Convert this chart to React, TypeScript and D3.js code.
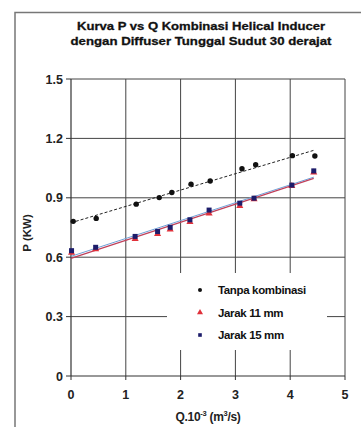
import React from "react";
import * as d3 from "d3";

const titleLines = ["Kurva P vs Q Kombinasi Helical Inducer", "dengan Diffuser Tunggal Sudut 30 derajat"];
const xTicks = [0, 1, 2, 3, 4, 5];
const yTicks = [0, 0.3, 0.6, 0.9, 1.2, 1.5];
const yTickLabels = ["0", "0.3", "0.6", "0.9", "1.2", "1.5"];

const qTanpa = [0.04, 0.46, 1.19, 1.61, 1.84, 2.19, 2.54, 3.12, 3.37, 4.04, 4.45];
const pTanpa = [0.781, 0.796, 0.868, 0.901, 0.927, 0.969, 0.985, 1.047, 1.067, 1.113, 1.111];

const q11 = [0.01, 0.45, 1.17, 1.58, 1.81, 2.17, 2.52, 3.08, 3.34, 4.03, 4.43];
const p11 = [0.625, 0.643, 0.695, 0.72, 0.743, 0.78, 0.823, 0.862, 0.895, 0.962, 1.03];

const q15 = [0.01, 0.45, 1.17, 1.58, 1.81, 2.17, 2.52, 3.08, 3.34, 4.03, 4.43];
const p15 = [0.633, 0.65, 0.705, 0.73, 0.751, 0.789, 0.838, 0.873, 0.898, 0.964, 1.036];

const legendLabels = ["Tanpa kombinasi", "Jarak 11  mm", "Jarak 15 mm"];

function fit(xs: number[], ys: number[]) {
  const n = xs.length;
  const mx = d3.mean(xs)!;
  const my = d3.mean(ys)!;
  let sxy = 0, sxx = 0;
  for (let i = 0; i < n; i++) {
    sxy += (xs[i] - mx) * (ys[i] - my);
    sxx += (xs[i] - mx) * (xs[i] - mx);
  }
  const b = sxy / sxx;
  return { a: my - b * mx, b };
}

export default function App() {
  const W = 361, H = 427;
  const left = 71, right = 345, top = 79, bottom = 376;
  const x = d3.scaleLinear().domain([0, 5]).range([left, right]);
  const y = d3.scaleLinear().domain([0, 1.5]).range([bottom, top]);
  const font = "'Liberation Sans', Arial, sans-serif";

  const fT = fit(qTanpa, pTanpa);
  const f11 = fit(q11, p11);
  const f15 = fit(q15, p15);
  const xEndT = d3.max(qTanpa)!;
  const xEnd11 = d3.max(q11)!;
  const xEnd15 = d3.max(q15)!;

  const lgX0 = 167, lgX1 = 327, lgY0 = 273, lgY1 = 350;
  const tri = d3.symbol().type(d3.symbolTriangle).size(22);
  const titleWidths = [248, 261];

  return (
    <svg width={W} height={H} style={{ position: "absolute", left: 0, top: 0, background: "#fff" }}>
      <rect x={0} y={0} width={W} height={H} fill="#fff" />
      <path d={`M15,427 L15,12.5 L361,12.5`} fill="none" stroke="#777" strokeWidth={1.5} />

      {titleLines.map((t, i) => (
        <text key={i} x={201} y={30 + i * 15} textAnchor="middle" fontFamily={font} fontWeight="bold"
          fontSize={11.5} textLength={titleWidths[i]} lengthAdjust="spacingAndGlyphs" fill="#111"
          stroke="#111" strokeWidth={0.3}>{t}</text>
      ))}

      {yTicks.slice(1).map((v) => (
        <line key={"gy" + v} x1={left} x2={right} y1={y(v)} y2={y(v)} stroke="#444" strokeWidth={1} />
      ))}
      {xTicks.slice(1).map((v) => (
        <line key={"gx" + v} x1={x(v)} x2={x(v)} y1={top} y2={bottom} stroke="#444" strokeWidth={1} />
      ))}
      <rect x={lgX0} y={lgY0} width={lgX1 - lgX0} height={lgY1 - lgY0} fill="#fff" />

      <line x1={left} x2={left} y1={top} y2={bottom} stroke="#333" strokeWidth={1.2} />
      <line x1={left} x2={right} y1={bottom} y2={bottom} stroke="#333" strokeWidth={1.2} />
      {yTicks.map((v, i) => (
        <g key={"yt" + v}>
          <line x1={left - 5} x2={left} y1={y(v)} y2={y(v)} stroke="#333" />
          <text x={63} y={y(v) + 4.5} textAnchor="end" fontFamily={font} fontWeight="bold" fontSize={12.5}
            fill="#222">{yTickLabels[i]}</text>
        </g>
      ))}
      {xTicks.map((v) => (
        <g key={"xt" + v}>
          <line x1={x(v)} x2={x(v)} y1={bottom} y2={bottom + 4} stroke="#333" />
          <text x={x(v)} y={399} textAnchor="middle" fontFamily={font} fontWeight="bold" fontSize={12.5}
            fill="#222">{v}</text>
        </g>
      ))}

      <text transform={`translate(31,233) rotate(-90)`} textAnchor="middle" fontFamily={font}
        fontWeight="bold" fontSize={11.5} fill="#222">P (KW)</text>
      <text x={208} y={421} textAnchor="middle" fontFamily={font} fontWeight="bold" fontSize={12}
        letterSpacing={-0.3} fill="#222">
        Q.10<tspan dy={-5} fontSize={7.5}>-3</tspan><tspan dy={5}> (m</tspan>
        <tspan dy={-5} fontSize={7.5}>3</tspan><tspan dy={5}>/s)</tspan>
      </text>

      <line x1={x(0)} y1={y(fT.a)} x2={x(xEndT)} y2={y(fT.a + fT.b * xEndT)} stroke="#222"
        strokeWidth={1} strokeDasharray="3,2" />
      <line x1={x(0)} y1={y(f15.a)} x2={x(xEnd15)} y2={y(f15.a + f15.b * xEnd15)} stroke="#6fa0d8"
        strokeWidth={1} />
      <line x1={x(0)} y1={y(f11.a)} x2={x(xEnd11)} y2={y(f11.a + f11.b * xEnd11)} stroke="#c0405a"
        strokeWidth={1.2} />

      {q11.map((q, i) => (
        <path key={"r" + i} d={tri()!} transform={`translate(${x(q)},${y(p11[i]) + 0.5})`} fill="#e0303a" />
      ))}
      {q15.map((q, i) => (
        <rect key={"b" + i} x={x(q) - 2.5} y={y(p15[i]) - 2.5} width={5} height={5} fill="#1c1c6a" />
      ))}
      {qTanpa.map((q, i) => (
        <circle key={"k" + i} cx={x(q)} cy={y(pTanpa[i])} r={2.7} fill="#111" />
      ))}

      {legendLabels.map((t, i) => {
        const ly = 290 + i * 22.5;
        return (
          <g key={"lg" + i}>
            {i === 0 && <circle cx={200} cy={ly} r={2} fill="#111" />}
            {i === 1 && <path d={d3.symbol().type(d3.symbolTriangle).size(16)()!} transform={`translate(200,${ly})`} fill="#e0303a" />}
            {i === 2 && <rect x={198.2} y={ly - 1.8} width={3.6} height={3.6} fill="#1c1c6a" />}
            <text x={218} y={ly + 4} fontFamily={font} fontWeight="bold" fontSize={11.5} letterSpacing={-0.35}
              fill="#111">{t}</text>
          </g>
        );
      })}
    </svg>
  );
}
